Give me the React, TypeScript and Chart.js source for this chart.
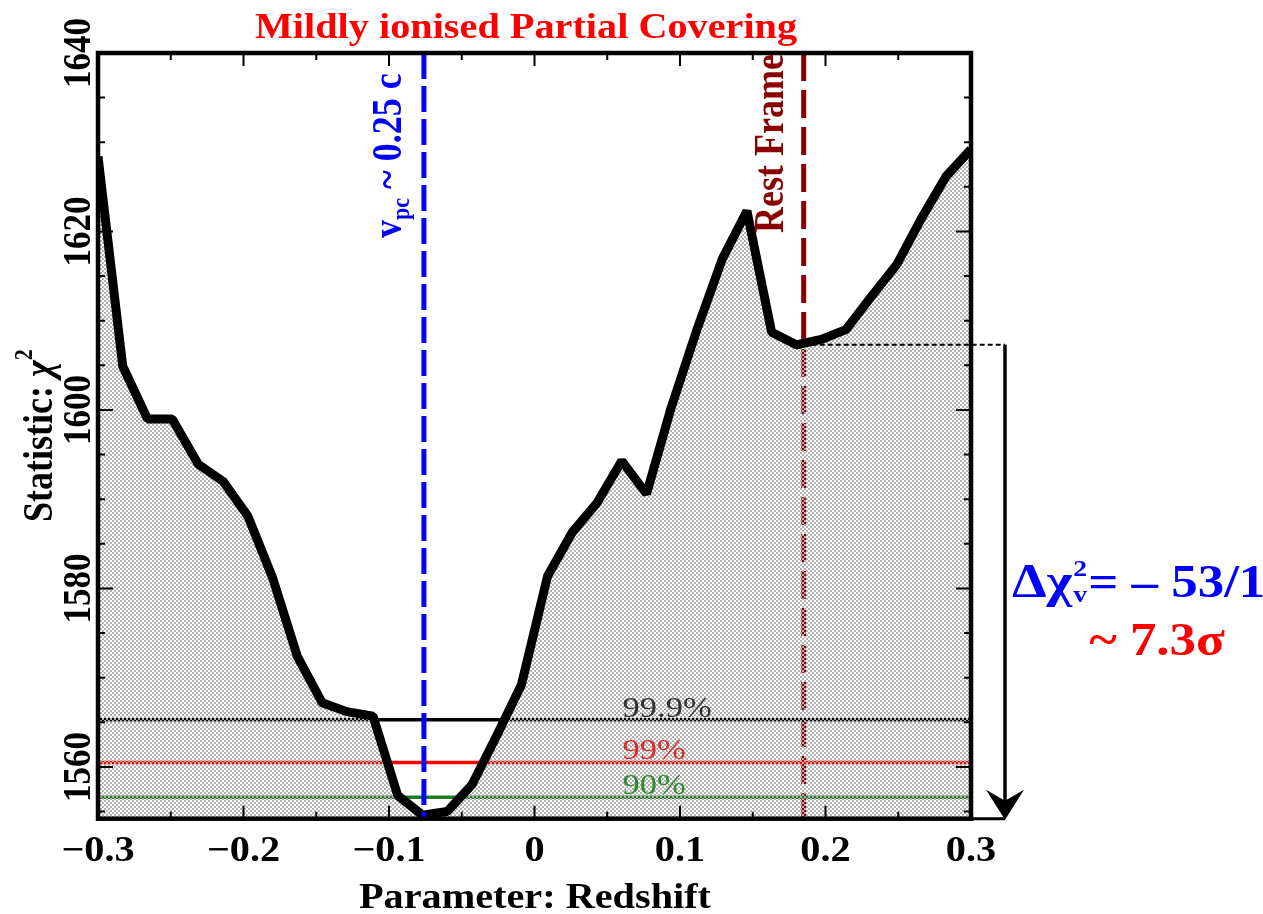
import React, { useEffect, useRef } from "react";
import { Chart, registerables } from "chart.js";

Chart.register(...registerables);

// Fit statistic as a function of the absorber redshift
const redshift = [
  -0.3, -0.283, -0.266, -0.249, -0.231, -0.214, -0.197, -0.18, -0.163, -0.146, -0.129, -0.111,
  -0.094, -0.077, -0.06, -0.043, -0.026, -0.009, 0.009, 0.026, 0.043, 0.06, 0.077, 0.094,
  0.111, 0.129, 0.146, 0.163, 0.18, 0.197, 0.214, 0.231, 0.249, 0.266, 0.283, 0.3,
];
const chiSquare = [
  1628.4, 1604.9, 1599.0, 1599.0, 1593.9, 1592.0, 1588.1, 1581.2, 1572.4, 1567.2, 1566.2, 1565.7,
  1556.8, 1554.6, 1555.0, 1558.0, 1563.5, 1569.2, 1581.4, 1586.3, 1589.6, 1594.3, 1590.6, 1600.3,
  1608.7, 1616.9, 1622.3, 1608.7, 1607.3, 1607.9, 1609.0, 1612.6, 1616.3, 1621.5, 1626.2, 1629.2,
];

// Confidence levels for one interesting parameter
const confidenceLabels = ["99.9%", "99%", "90%"];
const confidenceLevels = [1565.3, 1560.5, 1556.6];
const confidenceLineColors = ["#000000", "#ff0000", "#1f7a1f"];
const confidenceTextColors = ["#333333", "#e02a2a", "#2e8a2e"];
const confidenceLabelX = 0.0605;

// Reference redshifts
const outflowRedshift = -0.076;
const restFrameRedshift = 0.185;
const restFrameChi = 1607.3;

// Axes
const xRange = [-0.3, 0.3];
const yRange = [1554.2, 1640];
const xMajorTicks = [-0.3, -0.2, -0.1, 0, 0.1, 0.2, 0.3];
const xTickLabels = ["\u22120.3", "\u22120.2", "\u22120.1", "0", "0.1", "0.2", "0.3"];
const xMinorTicks = [-0.25, -0.15, -0.05, 0.05, 0.15, 0.25];
const yMajorTicks = [1560, 1580, 1600, 1620, 1640];
const yTickLabels = ["1560", "1580", "1600", "1620", "1640"];
const yMinorTicks = [1555, 1565, 1570, 1575, 1585, 1590, 1595, 1605, 1610, 1615, 1625, 1630, 1635];

const SERIF = '"Liberation Serif", "Times New Roman", serif';
const STRETCH = 1.15;
const UP = -Math.PI / 2;

type Run = { text: string; font: string; dy?: number; stack?: boolean; dx?: number };

function drawText(
  ctx: CanvasRenderingContext2D,
  str: string,
  x: number,
  y: number,
  font: string,
  color: string,
  align: CanvasTextAlign = "left",
  angle = 0
) {
  ctx.save();
  ctx.translate(x, y);
  ctx.scale(STRETCH, 1);
  ctx.rotate(angle);
  ctx.font = font;
  ctx.fillStyle = color;
  ctx.textAlign = align;
  ctx.textBaseline = "alphabetic";
  ctx.fillText(str, 0, 0);
  ctx.restore();
}

// Draws consecutive pieces of text (sub/superscripts) along one baseline
function drawRuns(
  ctx: CanvasRenderingContext2D,
  x: number,
  y: number,
  angle: number,
  runs: Run[],
  color: string
) {
  ctx.save();
  ctx.translate(x, y);
  ctx.scale(STRETCH, 1);
  ctx.rotate(angle);
  ctx.fillStyle = color;
  ctx.textAlign = "left";
  ctx.textBaseline = "alphabetic";
  let cursor = 0;
  let stackWidth = 0;
  for (const r of runs) {
    ctx.font = r.font;
    const w = ctx.measureText(r.text).width;
    if (r.stack) {
      ctx.fillText(r.text, cursor + (r.dx || 0), r.dy || 0);
      stackWidth = Math.max(stackWidth, w + (r.dx || 0));
      continue;
    }
    cursor += stackWidth + (r.dx || 0);
    stackWidth = 0;
    ctx.fillText(r.text, cursor, r.dy || 0);
    cursor += w;
  }
  ctx.restore();
}

function makeStipple(): CanvasPattern | string {
  const c = document.createElement("canvas");
  c.width = 4;
  c.height = 4;
  const g = c.getContext("2d");
  if (!g) return "rgba(150,150,150,0.45)";
  g.fillStyle = "#b2b2b2";
  g.fillRect(0, 0, 2, 2);
  g.fillRect(2, 2, 2, 2);
  return g.createPattern(c, "repeat") || "rgba(150,150,150,0.45)";
}

const decorations = {
  id: "decorations",
  afterDraw(chart: any) {
    const { ctx, chartArea: a, scales } = chart;
    const xs = scales.x;
    const ys = scales.y;
    ctx.save();

    // Dotted level of the rest-frame statistic and the arrow down to the minimum
    const yRest = ys.getPixelForValue(restFrameChi);
    const xRest = xs.getPixelForValue(restFrameRedshift);
    const arrowX = a.right + 34;
    ctx.strokeStyle = "#000";
    ctx.lineWidth = 2;
    ctx.setLineDash([5, 3]);
    ctx.beginPath();
    ctx.moveTo(xRest, yRest);
    ctx.lineTo(arrowX, yRest);
    ctx.stroke();
    ctx.setLineDash([]);

    ctx.lineWidth = 3.5;
    ctx.beginPath();
    ctx.moveTo(arrowX, yRest);
    ctx.lineTo(arrowX, a.bottom - 16);
    ctx.stroke();
    ctx.lineWidth = 3;
    ctx.beginPath();
    ctx.moveTo(a.right, a.bottom);
    ctx.lineTo(arrowX, a.bottom);
    ctx.stroke();
    ctx.fillStyle = "#000";
    ctx.beginPath();
    ctx.moveTo(arrowX, a.bottom + 1);
    ctx.lineTo(arrowX - 19, a.bottom - 29);
    ctx.lineTo(arrowX, a.bottom - 18);
    ctx.lineTo(arrowX + 19, a.bottom - 29);
    ctx.closePath();
    ctx.fill();

    // Frame with inward ticks on all four sides
    ctx.lineWidth = 4.5;
    ctx.strokeRect(a.left, a.top, a.right - a.left, a.bottom - a.top);
    ctx.lineWidth = 2;
    const xTick = (v: number, len: number) => {
      const p = xs.getPixelForValue(v);
      ctx.beginPath();
      ctx.moveTo(p, a.bottom);
      ctx.lineTo(p, a.bottom - len);
      ctx.moveTo(p, a.top);
      ctx.lineTo(p, a.top + len);
      ctx.stroke();
    };
    const yTick = (v: number, len: number) => {
      const p = ys.getPixelForValue(v);
      ctx.beginPath();
      ctx.moveTo(a.left, p);
      ctx.lineTo(a.left + len, p);
      ctx.moveTo(a.right, p);
      ctx.lineTo(a.right - len, p);
      ctx.stroke();
    };
    xMajorTicks.forEach((v) => xTick(v, 13));
    xMinorTicks.forEach((v) => xTick(v, 7));
    yMajorTicks.forEach((v) => yTick(v, 15));
    yMinorTicks.forEach((v) => yTick(v, 7));

    // Tick labels
    const tickFont = `bold 35px ${SERIF}`;
    xMajorTicks.forEach((v, i) =>
      drawText(ctx, xTickLabels[i], xs.getPixelForValue(v), a.bottom + 42, tickFont, "#000", "center")
    );
    yMajorTicks.forEach((v, i) =>
      drawText(ctx, yTickLabels[i], a.left - 8, ys.getPixelForValue(v), tickFont, "#000", "center", UP)
    );

    // Axis titles
    drawText(ctx, "Parameter: Redshift", 535, a.bottom + 89, `bold 35px ${SERIF}`, "#000", "center");
    drawRuns(
      ctx,
      52,
      522,
      UP,
      [
        { text: "Statistic: ", font: `bold 36px ${SERIF}` },
        { text: "\u03c7", font: `italic bold 36px ${SERIF}` },
        { text: "2", font: `bold 22px ${SERIF}`, dy: -17 },
      ],
      "#000"
    );

    // Title
    drawText(ctx, "Mildly ionised Partial Covering", 526, 37.5, `bold 35px ${SERIF}`, "#ff0000", "center");

    // Confidence labels
    const lx = xs.getPixelForValue(confidenceLabelX);
    confidenceLevels.forEach((lvl, i) =>
      drawText(ctx, confidenceLabels[i], lx, ys.getPixelForValue(lvl) - 3, `30px ${SERIF}`, confidenceTextColors[i])
    );

    // Vertical line labels
    drawRuns(
      ctx,
      401,
      238,
      UP,
      [
        { text: "v", font: `bold 36px ${SERIF}` },
        { text: "pc", font: `bold 22px ${SERIF}`, dy: 7 },
        { text: " ~ 0.25 c", font: `bold 36px ${SERIF}` },
      ],
      "#0000ff"
    );
    drawText(ctx, "Rest Frame", 783, 233, `bold 36px ${SERIF}`, "#8b0000", "left", UP);

    // Improvement in fit and significance
    drawRuns(
      ctx,
      1012,
      597,
      0,
      [
        { text: "\u0394\u03c7", font: `bold 48px ${SERIF}` },
        { text: "2", font: `bold 24px ${SERIF}`, dy: -21, stack: true, dx: 1 },
        { text: "v", font: `bold 24px ${SERIF}`, dy: 5, stack: true, dx: 1 },
        { text: "= \u2013 53/1", font: `bold 46px ${SERIF}`, dx: 1 },
      ],
      "#0000ff"
    );
    drawText(ctx, "~ 7.3\u03c3", 1157, 655, `bold 46px ${SERIF}`, "#ff0000", "center");

    ctx.restore();
  },
};

export default function App() {
  const ref = useRef<HTMLCanvasElement>(null);

  useEffect(() => {
    const canvas = ref.current;
    if (!canvas) return;
    const stipple = makeStipple();
    const hLine = (y: number) => [
      { x: xRange[0], y },
      { x: xRange[1], y },
    ];
    const vLine = (x: number) => [
      { x, y: yRange[1] },
      { x, y: yRange[0] },
    ];

    const chart = new Chart(canvas, {
      type: "line",
      data: {
        datasets: [
          {
            label: "outflow",
            data: vLine(outflowRedshift),
            borderColor: "#0000ff",
            borderWidth: 5,
            borderDash: [26, 7],
            fill: false,
          },
          {
            label: "statistic",
            data: redshift.map((x, i) => ({ x, y: chiSquare[i] })),
            borderColor: "#000000",
            borderWidth: 9,
            borderJoinStyle: "bevel",
            fill: "start",
            backgroundColor: stipple as any,
          },
          ...confidenceLevels.map((lvl, i) => ({
            label: confidenceLabels[i],
            data: hLine(lvl),
            borderColor: confidenceLineColors[i],
            borderWidth: 3.5,
            fill: false,
          })),
          {
            label: "rest frame",
            data: vLine(restFrameRedshift),
            borderColor: "#8b0000",
            borderWidth: 5,
            borderDash: [28, 9],
            fill: false,
          },
        ],
      },
      options: {
        responsive: false,
        animation: false,
        layout: { padding: { left: 98, top: 53, right: 292, bottom: 95.3 } },
        elements: { point: { radius: 0, hoverRadius: 0 }, line: { tension: 0 } },
        scales: {
          x: { type: "linear", min: xRange[0], max: xRange[1], display: false },
          y: { type: "linear", min: yRange[0], max: yRange[1], display: false },
        },
        plugins: {
          legend: { display: false },
          tooltip: { enabled: false },
        },
        events: [],
      },
      plugins: [decorations],
    });
    return () => chart.destroy();
  }, []);

  return (
    <div style={{ position: "fixed", left: 0, top: 0, width: 1263, height: 914, background: "#fff" }}>
      <canvas ref={ref} width={1263} height={914} style={{ width: 1263, height: 914, display: "block" }} />
    </div>
  );
}
